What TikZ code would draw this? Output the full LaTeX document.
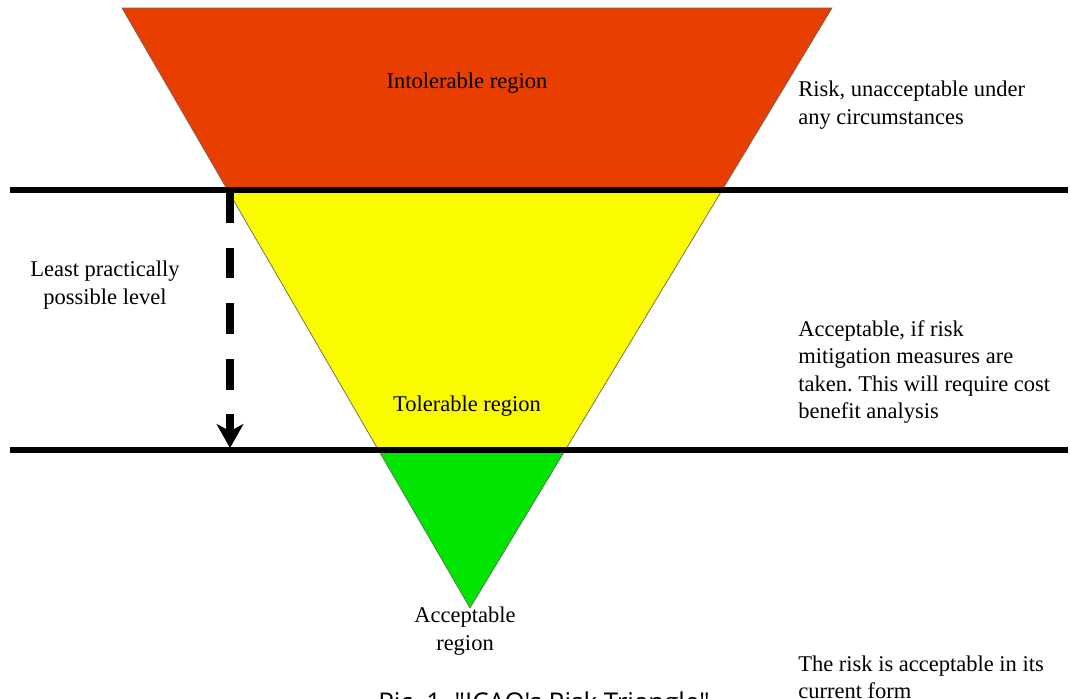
\documentclass[tikz,border=0pt]{standalone}
\usepackage{fontspec}
\setmainfont{Liberation Serif}
\newfontfamily\capfont{Open Sans}
\usetikzlibrary{arrows.meta}
\definecolor{intolred}{RGB}{232,62,0}
\definecolor{tolyellow}{RGB}{250,250,0}
\definecolor{accgreen}{RGB}{0,228,0}
\tikzset{
  region/.style={font=\fontsize{16}{19.5}\selectfont, align=center, inner sep=0pt},
  remark/.style={font=\fontsize{16}{19.5}\selectfont, align=left, anchor=west, inner sep=0pt},
  level/.style={line width=3.6pt},
  lpl/.style={line width=5.6pt, dash pattern=on 22pt off 17.5pt, -{Stealth[width=19pt,length=17pt,inset=5pt]}}
}
\frenchspacing
\begin{document}
\begin{tikzpicture}[x=0.025cm,y=-0.025cm]
\useasboundingbox (0,0) rectangle (1070,698);
% Risk triangle
\coordinate (tl) at (122,8);
\coordinate (tr) at (832,8);
\coordinate (apex) at (470,608);
\begin{scope}
\clip (tl) -- (tr) -- (apex) -- cycle;
\fill[intolred] (0,0) rectangle (1070,190);
\fill[tolyellow] (0,190) rectangle (1070,450);
\fill[accgreen] (0,450) rectangle (1070,698);
\end{scope}
\draw[black!60, line width=0.5pt] (tl) -- (tr) -- (apex) -- cycle;
% Levels
\coordinate (upl) at (10,190);
\coordinate (upr) at (1068,190);
\coordinate (lowl) at (10,450);
\coordinate (lowr) at (1068,450);
\draw[level] (upl) -- (upr);
\draw[level] (lowl) -- (lowr);
% Least practically possible level
\coordinate (lpltop) at (230,192);
\coordinate (lplbot) at (230,448);
\draw[lpl] (lpltop) -- (lplbot);
\node[region] (lpltext) at (105,285) {Least practically\\possible level};
% Regions
\node[region] (intol) at (467,83) {Intolerable region};
\node[region] (tol) at (467,406) {Tolerable region};
\node[region] (accept) at (465,631) {Acceptable\\region};
% Remarks
\node[remark] (remintol) at (798,105) {Risk, unacceptable under\\any circumstances};
\node[remark] (remtol) at (798,372) {Acceptable, if risk\\mitigation measures are\\taken. This will require cost\\benefit analysis};
\node[remark] (remacc) at (798,677) {The risk is acceptable in its\\current form};
% Caption (cut off at the bottom)
\node[anchor=base west, inner sep=0pt, font=\capfont\fontsize{18.4}{22}\selectfont] (caption) at (378,711) {Pic. 1. "ICAO's Risk Triangle"};
\end{tikzpicture}
\end{document}
